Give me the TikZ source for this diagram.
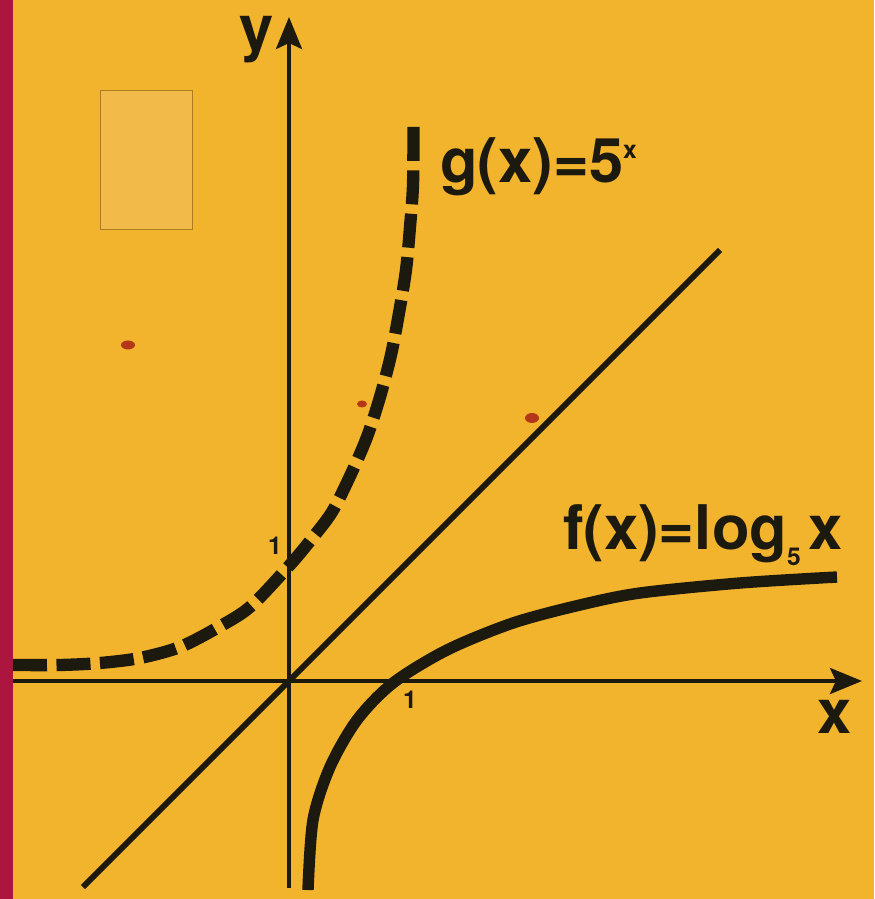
\documentclass[tikz,border=0pt]{standalone}
\usepackage{fontspec}
\setmainfont{TeX Gyre Heros}
\usetikzlibrary{arrows.meta}

\definecolor{paper}{RGB}{243,180,45}
\definecolor{strip}{RGB}{172,22,62}
\definecolor{ink}{RGB}{28,26,14}
\definecolor{patch}{RGB}{242,186,72}
\definecolor{speck}{RGB}{180,55,25}

\begin{document}
\begin{tikzpicture}[x=2cm, y=2cm,
    lbl/.style={text=ink, font=\bfseries\fontsize{35}{40}\selectfont, inner sep=0pt},
    tick/.style={text=ink, font=\bfseries\fontsize{14}{16}\selectfont, inner sep=0pt},
    axis/.style={draw=ink, line width=2.3pt, -{Stealth[length=0.64cm, width=0.52cm, inset=0.12cm]}}]
            \useasboundingbox (-2.89,-2.18) rectangle (5.85,6.81);
            % paper, edge strip and the pasted patch
            \fill[paper] (-2.89,-2.18) rectangle (5.85,6.81);
            \fill[strip] (-2.89,-2.18) rectangle (-2.76,6.81);
            \filldraw[fill=patch, draw=paper!70!black, line width=0.4pt] (-1.89,5.91) rectangle (-0.97,4.52);
            \fill[speck] (-1.61,3.36) ellipse (0.07 and 0.045);
            \fill[speck] (0.73,2.77) ellipse (0.05 and 0.035);
            \fill[speck] (2.43,2.63) ellipse (0.07 and 0.05);

            \coordinate (xs) at (-2.76,0);
            \coordinate (xe) at (5.73,0);
            \coordinate (ys) at (0,-2.07);
            \coordinate (ye) at (0,6.64);
            \coordinate (ds) at (-2.06,-2.06);
            \coordinate (de) at (4.31,4.31);

            \draw[axis] (xs) -- (xe);
            \draw[axis] (ys) -- (ye);
            \draw[ink, line width=3.4pt] (ds) -- (de);

            % g(x) = 5^x, dashed
            \draw[ink, line width=7pt, dash pattern=on 0.68cm off 0.19cm] plot[smooth] coordinates {
                (-2.76,0.16) (-2.29,0.16) (-1.89,0.18) (-1.49,0.23) (-1.09,0.34)
                (-0.72,0.53) (-0.39,0.74) (0,1.15) (0.21,1.40) (0.43,1.69)
                (0.62,2.07) (0.78,2.44) (0.91,2.84) (1.02,3.26) (1.10,3.68)
                (1.17,4.11) (1.21,4.54) (1.24,4.96) (1.245,5.58)};

            % f(x) = log_5 x
            \draw[ink, line width=6.5pt] plot[smooth] coordinates {
                (0.19,-2.09) (0.24,-1.39) (0.41,-0.86) (0.68,-0.39) (1.04,-0.02)
                (1.58,0.31) (2.24,0.58) (2.91,0.76) (3.51,0.88) (4.51,0.98) (5.48,1.04)};

            \node[lbl] (ylab) at (-0.32,6.41) {y};
            \node[lbl] (xlab) at (5.46,-0.36) {x};
            \node[tick] (oney) at (-0.14,1.35) {1};
            \node[tick] (onex) at (1.21,-0.19) {1};
            \node[lbl, anchor=base west] (glab) at (1.51,4.98)
                {g(x)=5\raisebox{14pt}{\fontsize{14}{14}\selectfont x}};
            \node[lbl, anchor=base west] (flab) at (2.74,1.31)
                {f(x)=log\raisebox{-9pt}{\fontsize{14}{14}\selectfont 5}\hspace{0.12em}x};
        \end{tikzpicture}
\end{document}
